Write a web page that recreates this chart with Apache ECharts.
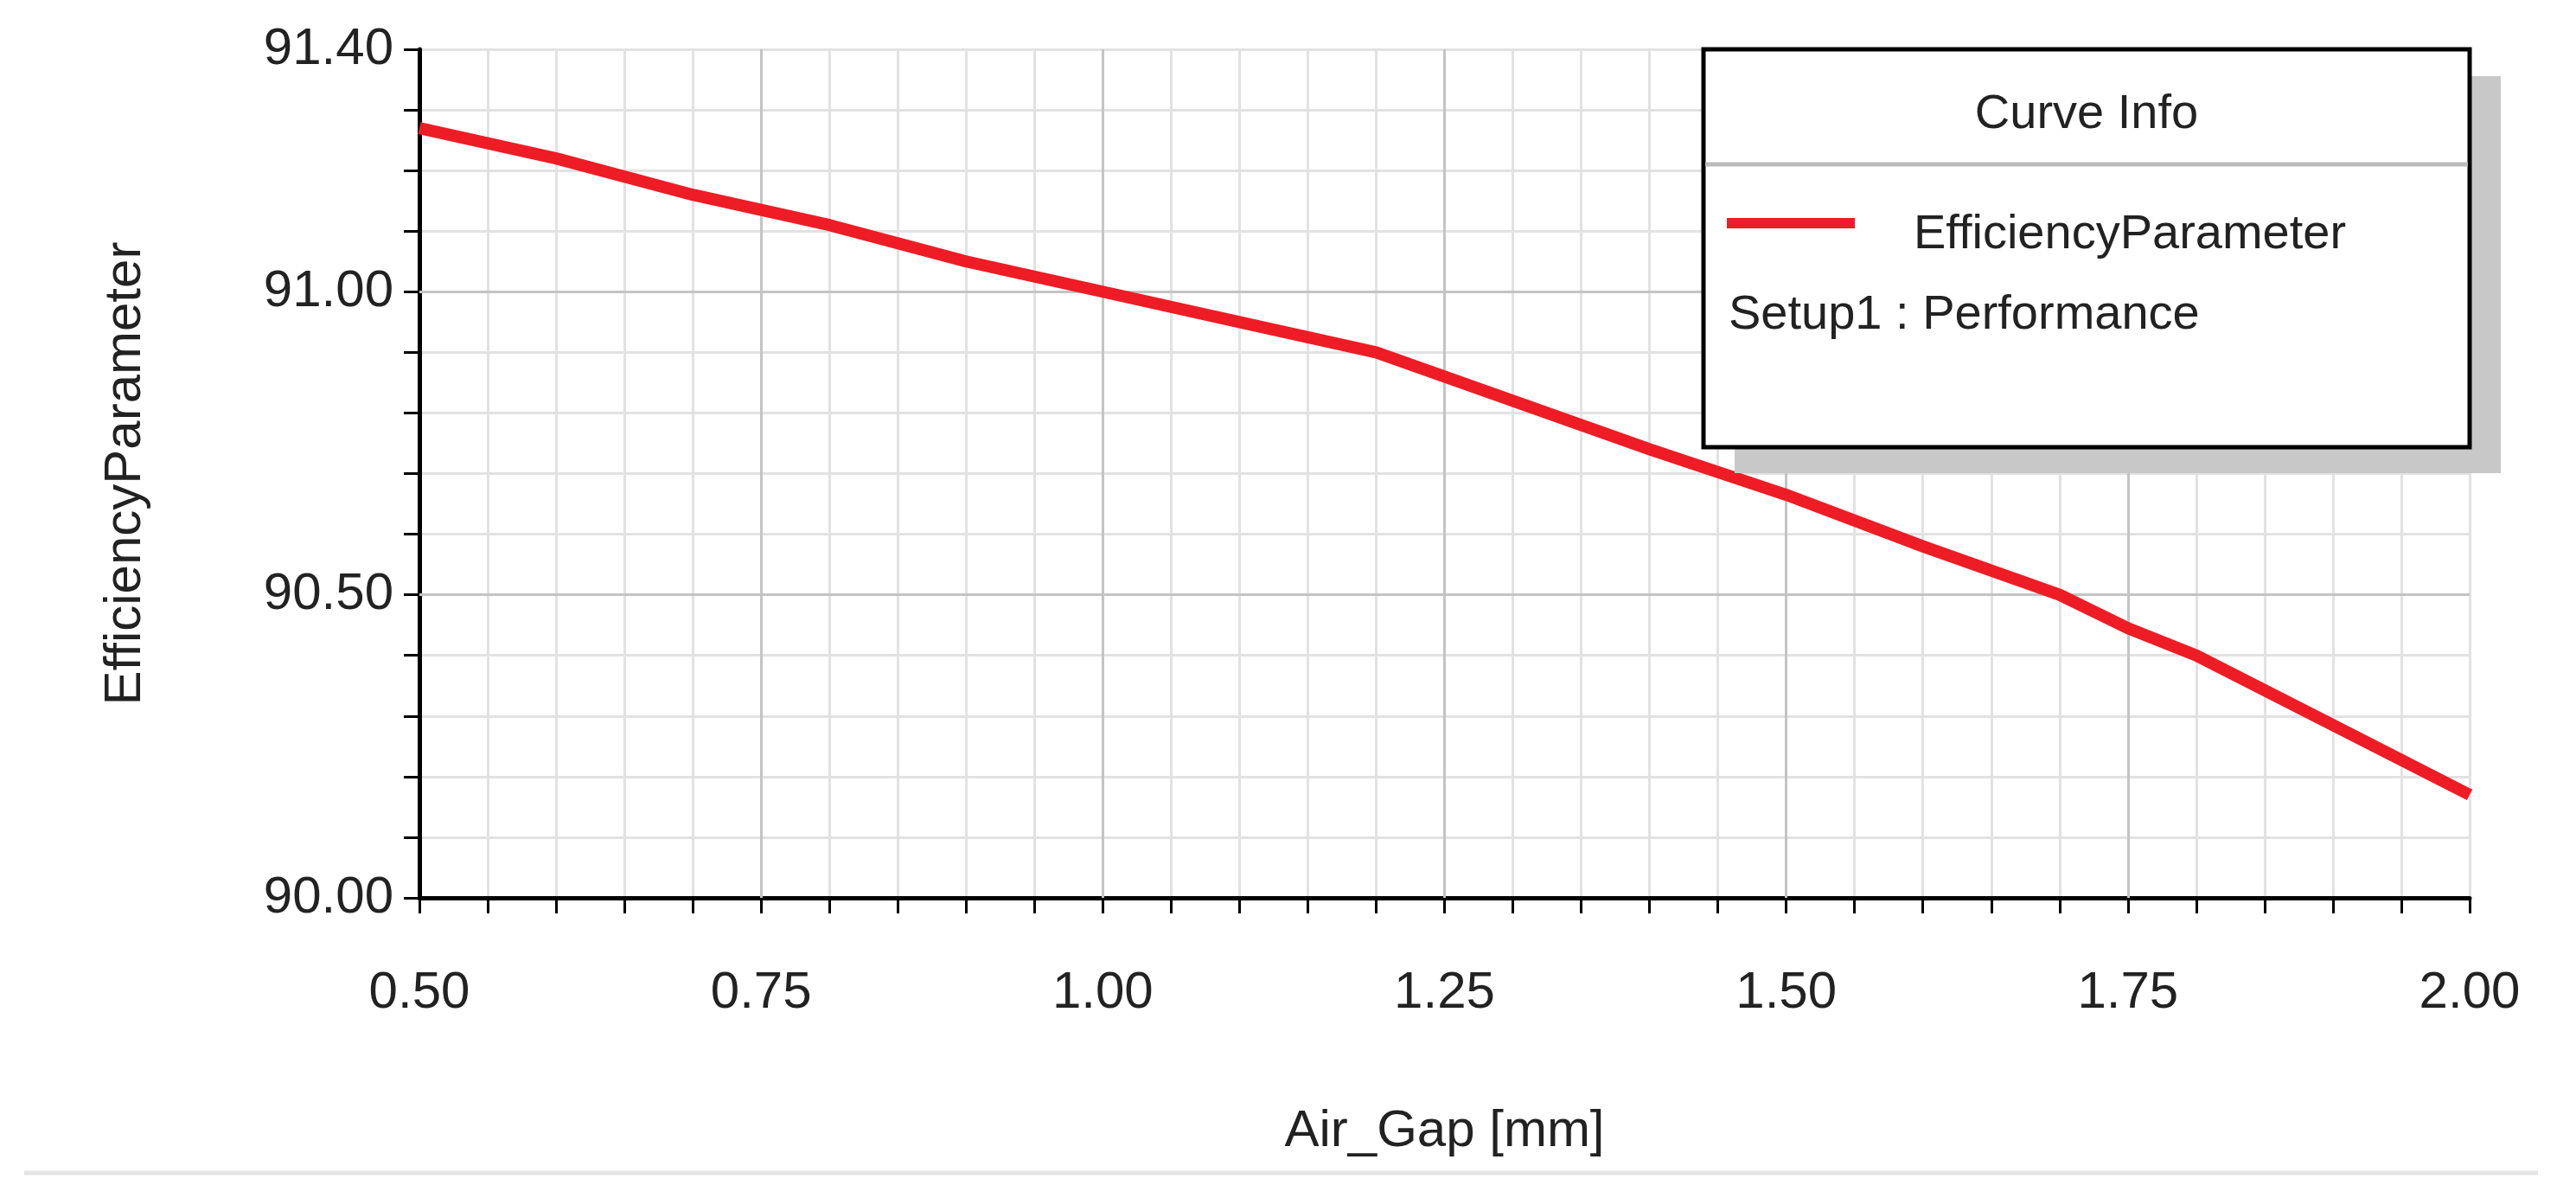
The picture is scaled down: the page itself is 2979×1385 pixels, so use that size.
<!DOCTYPE html>
<html><head><meta charset="utf-8">
<script src="https://cdn.jsdelivr.net/npm/echarts@6/dist/echarts.min.js"></script>
<style>html,body{margin:0;padding:0;background:#fff}#c{width:2979px;height:1385px}</style>
</head><body><div id="c"></div>
<script>
const xValues=[0.5,0.6,0.7,0.75,0.8,0.9,1.0,1.1,1.2,1.25,1.3,1.4,1.5,1.6,1.7,1.75,1.8,1.9,2.0];
const effValues=[91.27,91.22,91.16,91.135,91.11,91.05,91.0,90.95,90.9,90.86,90.82,90.74,90.665,90.58,90.5,90.445,90.4,90.285,90.17];
const yLabels=[90.0,90.5,91.0,91.4];
const seriesName='EfficiencyParameter';
const F='"Liberation Sans", Arial, sans-serif';
const chart=echarts.init(document.getElementById('c'));
const L=485,R=2856,T=57,B=1038;
chart.setOption({
  animation:false,
  grid:{left:L,right:2979-R,top:T,bottom:1385-B},
  xAxis:{type:'value',min:0.5,max:2.0,interval:0.05,
    name:'Air_Gap [mm]',nameLocation:'middle',nameGap:240,
    nameTextStyle:{fontFamily:F,fontSize:60,color:'#222'},
    axisLine:{lineStyle:{color:'#000',width:5}},
    axisTick:{show:true,length:18,lineStyle:{color:'#000',width:3}},
    axisLabel:{fontFamily:F,fontSize:60,color:'#222',margin:80,
      formatter:v=>{const r=Math.round(v*100);return r%25===0?(r/100).toFixed(2):'';}},
    splitLine:{show:true,lineStyle:{color:'#e2e2e2',width:3}}
  },
  yAxis:{type:'value',min:90.0,max:91.4,interval:0.1,
    name:'EfficiencyParameter',nameLocation:'middle',nameGap:310,
    nameTextStyle:{fontFamily:F,fontSize:60,color:'#222'},
    axisLine:{show:true,lineStyle:{color:'#000',width:5}},
    axisTick:{show:true,inside:false,length:18,lineStyle:{color:'#000',width:3}},
    axisLabel:{fontFamily:F,fontSize:60,color:'#222',margin:30,
      formatter:v=>{const s=v.toFixed(2);return yLabels.some(l=>l.toFixed(2)===s)?s:'';}},
    splitLine:{show:true,lineStyle:{color:'#e2e2e2',width:3}}
  },
  series:[
    {type:'line',name:'grid-major-x',data:[],markLine:{silent:true,symbol:'none',label:{show:false},
      lineStyle:{color:'#c4c4c4',width:3,type:'solid'},
      data:[0.75,1.0,1.25,1.5,1.75].map(x=>({xAxis:x})).concat([90.5,91.0].map(y=>({yAxis:y})))}},
    {type:'line',name:seriesName,data:xValues.map((x,i)=>[x,effValues[i]]),
      showSymbol:false,smooth:false,lineStyle:{color:'#ee1c25',width:14,join:'round'},z:5}
  ],
  graphic:[
    {type:'rect',shape:{x:2006,y:88,width:886,height:459},style:{fill:'#c8c8c8'},z:10},
    {type:'rect',shape:{x:1970,y:57,width:886,height:460},style:{fill:'#fff',stroke:'#000',lineWidth:5},z:11},
    {type:'line',shape:{x1:1972,y1:190,x2:2854,y2:190},style:{stroke:'#bbb',lineWidth:5},z:12},
    {type:'text',x:2413,y:133,style:{text:'Curve Info',font:'56px '+F,fill:'#222',align:'center',verticalAlign:'middle'},z:12},
    {type:'line',shape:{x1:1997,y1:258,x2:2145,y2:258},style:{stroke:'#ee1c25',lineWidth:12},z:12},
    {type:'text',x:2213,y:272,style:{text:seriesName,font:'56px '+F,fill:'#222',verticalAlign:'middle'},z:12},
    {type:'text',x:1999,y:365,style:{text:'Setup1 : Performance',font:'56px '+F,fill:'#222',verticalAlign:'middle'},z:12},
    {type:'line',shape:{x1:28,y1:1356,x2:2935,y2:1356},style:{stroke:'#e4e4e4',lineWidth:5},z:1}
  ]
});
</script></body></html>
